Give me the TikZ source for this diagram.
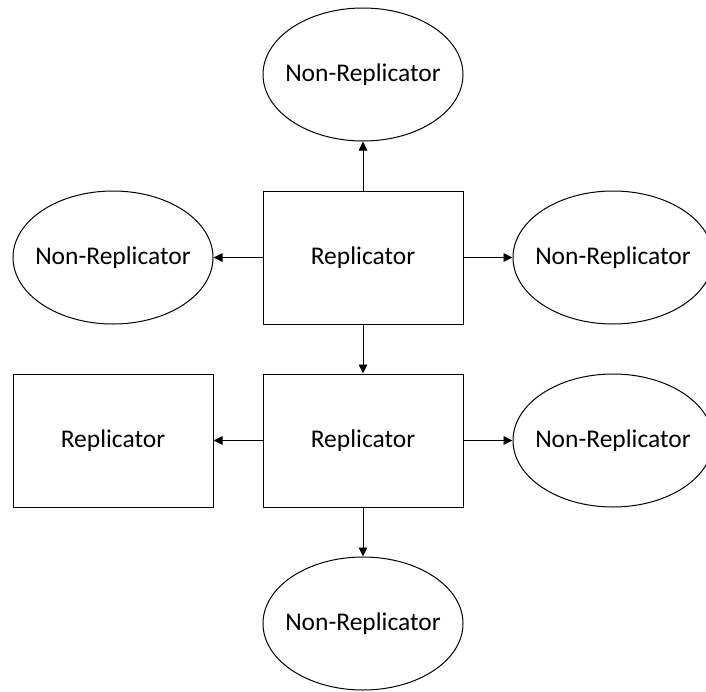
\documentclass[tikz,border=0pt]{standalone}
\usepackage{fontspec}
\setmainfont{Carlito}
\usetikzlibrary{shapes.geometric,arrows.meta}
\begin{document}
\begin{tikzpicture}[x=1pt,y=-1pt,
  every node/.style={font=\fontsize{25.5}{30}\selectfont, inner sep=0pt},
  repbox/.style={draw, line width=1pt, rectangle, minimum width=200pt, minimum height=133pt},
  nonrep/.style={draw, line width=1pt, ellipse, minimum width=200pt, minimum height=133pt},
  conn/.style={line width=0.9pt, -{Triangle[length=9pt,width=8.5pt]}}]
\useasboundingbox (0,0) rectangle (706,691);
\newcommand{\nrlabel}{\makebox[0pt]{Non-Replicator}}
\node[nonrep] (top) at (363,74.5) {\nrlabel};
\node[repbox] (r1) at (363,257.5) {Replicator};
\node[nonrep] (l1) at (113,257.5) {\nrlabel};
\node[nonrep] (rt1) at (613,257.5) {\nrlabel};
\node[repbox] (r2) at (363,440.5) {Replicator};
\node[repbox] (l2) at (113,440.5) {Replicator};
\node[nonrep] (rt2) at (613,440.5) {\nrlabel};
\node[nonrep] (bot) at (363,623.5) {\nrlabel};
\draw[conn] (r1) -- (top);
\draw[conn] (r1) -- (l1);
\draw[conn] (r1) -- (rt1);
\draw[conn] (r1) -- (r2);
\draw[conn] (r2) -- (l2);
\draw[conn] (r2) -- (rt2);
\draw[conn] (r2) -- (bot);
\end{tikzpicture}
\end{document}
